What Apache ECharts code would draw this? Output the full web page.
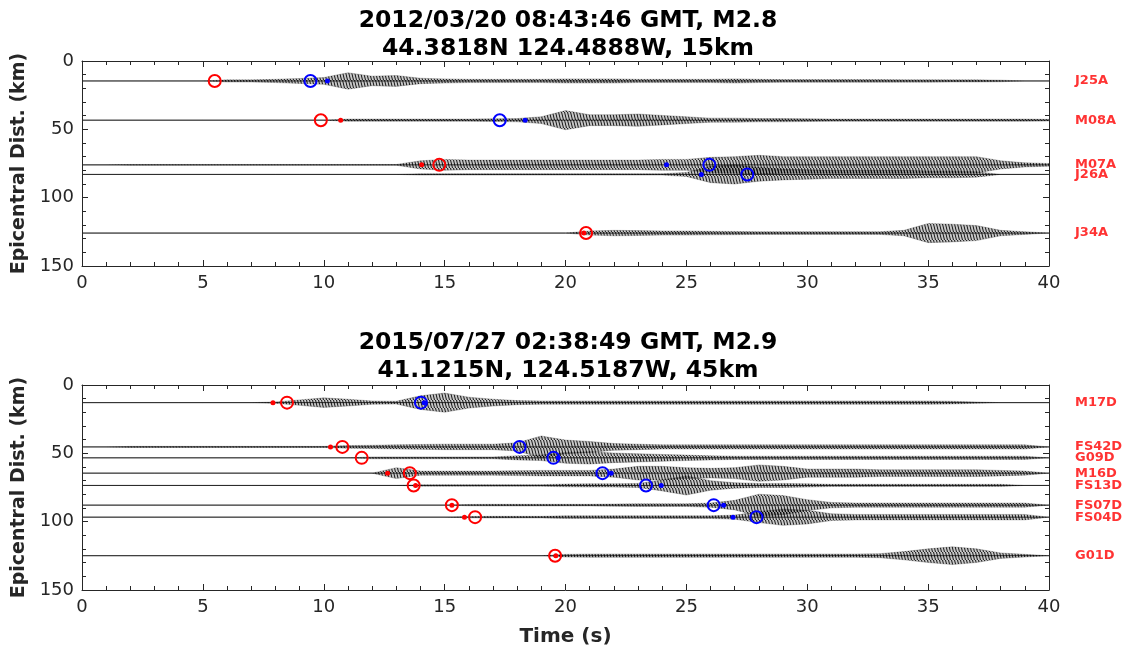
<!DOCTYPE html>
<html>
<head>
<meta charset="utf-8">
<script src="https://cdn.jsdelivr.net/npm/echarts@6/dist/echarts.min.js"></script>
<style>
  html, body { margin: 0; padding: 0; background: #fff; }
  #main { width: 1124px; height: 648px; }
</style>
</head>
<body>
<div id="main"></div>
<script>
// sample times of the trace envelopes (s)
var seconds = [0,1,2,3,4,5,6,7,8,9,10,11,12,13,14,15,16,17,18,19,20,
               21,22,23,24,25,26,27,28,29,30,31,32,33,34,35,36,37,38,39,40];

// ---- event 1 : 2012/03/20 ----
var stations1 = ["J25A", "M08A", "M07A", "J26A", "J34A"];
var dist1 = [14.6, 43.3, 76, 83, 125.9];
var pPick1 = [5.49, 9.88, 14.78, null, 20.85];
var pPred1 = [null, 10.7, 14.05, null, 20.76];
var sPick1 = [9.45, 17.28, 25.95, 27.52, null];
var sPred1 = [10.15, 18.33, 24.18, 25.62, null];
// half amplitude of each trace (km), one value per second
var env1 = [
  [0,0,0,0,0,0,0.8,0.8,1.2,1.8,2.5,6,3.5,4,2,1.5,1.2,1.2,1.2,1.2,1.5,1.5,1.5,1.2,1.2,1.2,1.2,1.5,1.2,1,1,1,1,1,0.9,0.9,0.8,0.8,0.6,0,0],
  [0,0,0,0,0,0,0,0,0,0,0,0.8,0.8,0.8,0.8,0.8,0.8,1,1.2,2.5,7,4,4,4.5,3.5,2.5,1.5,1.5,1.2,1.2,1,0.8,0.8,0.8,0.8,0.8,0.8,0.8,0.8,0.8,0.6],
  [0,0,0.3,0.3,0.3,0.3,0.3,0.3,0.3,0.3,0.3,0.3,0.3,0.3,3,4,3.5,3.5,3.5,3.5,3.5,3.5,3.5,3.5,4,4,5.5,6,7,6,6,6,6,6,6,6,6,6,3,1.5,1],
  [0,0,0,0,0,0,0,0,0,0,0,0,0,0,0.5,0.5,0.5,0.5,0.5,0.5,0.5,0.5,0.5,0.5,0.5,1.5,6,7,5,4,3.5,3,3,3,3,2.5,2.5,2,0,0,0],
  [0,0,0,0,0,0,0,0,0,0,0,0,0,0,0,0,0,0,0,0,0,1.5,2,1.8,1.5,1.5,1.3,1.2,1,1,1,1,1,1,2,7,6.5,5.5,2,1,0]
];

// ---- event 2 : 2015/07/27 ----
var stations2 = ["M17D", "FS42D", "G09D", "M16D", "FS13D", "FS07D", "FS04D", "G01D"];
var dist2 = [12.9, 45.3, 53.3, 64.5, 73.5, 87.9, 96.7, 124.9];
var pPick2 = [8.48, 10.77, 11.57, 13.56, 13.72, 15.3, 16.26, 19.57];
var pPred2 = [7.9, 10.28, null, 12.64, 13.8, 15.3, 15.82, 19.6];
var sPick2 = [14.02, 18.1, 19.5, 21.53, 23.33, 26.13, 27.9, null];
var sPred2 = [14.15, null, 19.7, 21.89, 23.96, 26.54, 26.93, null];
var env2 = [
  [0,0,0,0,0,0,0,0,0.5,2,3.5,2.5,1.2,1,5,7,4,2.5,1.5,1.2,1.2,1.2,1.2,1.2,1.2,1.2,1.2,1.2,1.2,1.2,1.2,1.2,1.2,1.2,1.2,1.2,1,0.5,0,0,0],
  [0,0,0.4,0.4,0.4,0.4,0.4,0.4,0.4,0.4,0.4,1,1.2,1.5,1.8,2,2,2,3,8,5,4,2.5,2,1.5,1.5,1.5,1.5,1.5,1.5,1.5,1.5,1.5,1.5,1.5,1.5,1.5,1.5,1.5,1.5,0],
  [0,0,0,0,0,0,0,0,0,0,0,0,0.7,0.7,0.7,0.7,0.7,0.7,1.5,2,4,4.5,3.5,3,2.5,2,1.5,1.2,1.2,1.2,1.2,1.2,1.2,1.2,1.2,1.2,1.2,1.2,1.2,1.2,0],
  [0,0,0,0,0,0,0,0,0,0,0,0,0,4,1.5,1.5,1.5,1.5,1.8,2,2,2,3,5,5,4,3.5,4,6,5,3,3,3,2.5,2.5,2.5,2.5,2.5,2,1.5,0],
  [0,0,0,0,0,0,0,0,0,0,0,0,0,0,0.5,0.6,0.6,0.6,0.6,0.6,1,1.2,1.2,1.5,4,7,3.5,2,1.5,1.5,1.2,0.8,0.8,0.8,0.8,0.8,0.8,0.8,0.8,0,0],
  [0,0,0,0,0,0,0,0,0,0,0,0,0,0,0,0,0.5,0.6,0.6,0.6,0.6,0.6,0.8,1,1,1,1.5,3.5,8,7,4,2,1.5,1.5,1.5,1.5,1.5,1.5,1.5,1.5,0],
  [0,0,0,0,0,0,0,0,0,0,0,0,0,0,0,0,0.5,0.6,0.6,0.6,1,1,1,1,1,1,1,1.5,4,6,5,2.5,2,2,2,2,2,2,2,2,0],
  [0,0,0,0,0,0,0,0,0,0,0,0,0,0,0,0,0,0,0,0,1,1.2,1.2,1.2,1.2,1.2,1.2,1.2,1.2,1.2,1.2,1.2,1.2,1.5,3,5,6.5,5,2,1,0]
];

var xTicks = [0, 5, 10, 15, 20, 25, 30, 35, 40];

var FONT = "DejaVu Sans";
var AX = "#262626";

// stripe texture so the envelopes read like dense wiggles
var tex = document.createElement("canvas");
tex.width = 3; tex.height = 8;
var tc = tex.getContext("2d");
tc.fillStyle = "rgba(0,0,0,0.22)";
tc.fillRect(0, 0, 3, 8);
tc.strokeStyle = "rgba(0,0,0,0.9)";
tc.lineWidth = 1;
tc.beginPath(); tc.moveTo(0.5, 0); tc.lineTo(2.5, 8); tc.stroke();

var chart = echarts.init(document.getElementById("main"));

function traceRenderer(dist, env) {
  return function (params, api) {
    var i = params.dataIndex;
    var d = dist[i], e = env[i];
    var upper = [], lower = [];
    for (var k = 0; k < seconds.length; k++) {
      upper.push(api.coord([seconds[k], d - e[k]]));
      lower.unshift(api.coord([seconds[k], d + e[k]]));
    }
    var a = api.coord([xTicks[0], d]);
    var b = api.coord([xTicks[xTicks.length - 1], d]);
    return {
      type: "group",
      children: [
        { type: "line", shape: { x1: a[0], y1: a[1], x2: b[0], y2: b[1] },
          style: { stroke: "#3a3a3a", lineWidth: 1 } },
        { type: "polygon", shape: { points: upper.concat(lower) },
          style: { fill: { image: tex, repeat: "repeat" }, stroke: "rgba(0,0,0,0.35)", lineWidth: 0.6 } }
      ]
    };
  };
}

function pts(times, dist) {
  var out = [];
  for (var i = 0; i < times.length; i++) {
    if (times[i] != null) out.push([times[i], dist[i]]);
  }
  return out;
}

function xAxes(grid, bottom) {
  var common = {
    gridIndex: grid, type: "value", min: 0, max: 40, interval: 5,
    axisLine: { show: true, onZero: false, lineStyle: { color: AX, width: 1 } },
    axisTick: { show: true, inside: true, length: 6, lineStyle: { color: AX } },
    minorTick: { show: true, splitNumber: 5, length: 4, lineStyle: { color: AX } },
    splitLine: { show: false }
  };
  return [
    Object.assign({}, common, {
      position: "bottom",
      axisLabel: { show: true, fontSize: 18, color: AX, fontFamily: FONT, margin: 8 },
      name: bottom ? "Time (s)" : "",
      nameLocation: "middle", nameGap: 37,
      nameTextStyle: { fontSize: 20, fontWeight: "bold", color: AX, fontFamily: FONT }
    }),
    Object.assign({}, common, { position: "top", axisLabel: { show: false } })
  ];
}

function yAxes(grid) {
  var common = {
    gridIndex: grid, type: "value", min: 0, max: 150, interval: 50, inverse: true,
    axisLine: { show: true, onZero: false, lineStyle: { color: AX, width: 1 } },
    axisTick: { show: true, inside: true, length: 6, lineStyle: { color: AX } },
    minorTick: { show: true, splitNumber: 5, length: 4, lineStyle: { color: AX } },
    splitLine: { show: false }
  };
  return [
    Object.assign({}, common, {
      position: "left",
      axisLabel: { show: true, fontSize: 18, color: AX, fontFamily: FONT, margin: 8 },
      name: "Epicentral Dist. (km)", nameLocation: "middle", nameGap: 53, nameRotate: 90,
      nameTextStyle: { fontSize: 19, fontWeight: "bold", color: AX, fontFamily: FONT }
    }),
    Object.assign({}, common, { position: "right", axisLabel: { show: false } })
  ];
}

function panelSeries(ax, stations, dist, env, pPick, pPred, sPick, sPred) {
  var base = { xAxisIndex: ax * 2, yAxisIndex: ax * 2 };
  return [
    Object.assign({
      type: "custom", clip: true, silent: true,
      renderItem: traceRenderer(dist, env),
      encode: { x: 0, y: 1 },
      data: dist.map(function (d) { return [0, d]; }), z: 2
    }, base),
    Object.assign({
      type: "scatter", symbol: "circle", symbolSize: 12, z: 4,
      itemStyle: { color: "rgba(0,0,0,0)", borderColor: "#ff0000", borderWidth: 2, opacity: 1 },
      data: pts(pPick, dist)
    }, base),
    Object.assign({
      type: "scatter", symbol: "circle", symbolSize: 5, z: 5,
      itemStyle: { color: "#ff0000", opacity: 1 },
      data: pts(pPred, dist)
    }, base),
    Object.assign({
      type: "scatter", symbol: "circle", symbolSize: 12, z: 4,
      itemStyle: { color: "rgba(0,0,0,0)", borderColor: "#0000ff", borderWidth: 2, opacity: 1 },
      data: pts(sPick, dist)
    }, base),
    Object.assign({
      type: "scatter", symbol: "circle", symbolSize: 5, z: 5,
      itemStyle: { color: "#0000ff", opacity: 1 },
      data: pts(sPred, dist)
    }, base),
    Object.assign({
      type: "scatter", symbolSize: 0, clip: false, silent: true,
      data: dist.map(function (d, i) { return { value: [40, d], name: stations[i] }; }),
      label: {
        show: true, position: "right", distance: 26,
        formatter: function (p) { return p.name; },
        color: "#ff0000", fontSize: 13, fontWeight: "bold", fontFamily: FONT
      }
    }, base)
  ];
}

var titleStyle = { fontSize: 23.5, fontWeight: "bold", lineHeight: 28, color: "#000", fontFamily: FONT };

chart.setOption({
  animation: false,
  backgroundColor: "#fff",
  title: [
    { text: "2012/03/20 08:43:46 GMT, M2.8\n44.3818N 124.4888W, 15km",
      left: 563, top: 2, textAlign: "center", textStyle: titleStyle },
    { text: "2015/07/27 02:38:49 GMT, M2.9\n41.1215N, 124.5187W, 45km",
      left: 563, top: 324, textAlign: "center", textStyle: titleStyle }
  ],
  grid: [
    { left: 82, right: 75, top: 61, height: 205 },
    { left: 82, right: 75, top: 385, height: 206 }
  ],
  xAxis: xAxes(0, false).concat(xAxes(1, true)),
  yAxis: yAxes(0).concat(yAxes(1)),
  series: panelSeries(0, stations1, dist1, env1, pPick1, pPred1, sPick1, sPred1)
    .concat(panelSeries(1, stations2, dist2, env2, pPick2, pPred2, sPick2, sPred2))
});
</script>
</body>
</html>
